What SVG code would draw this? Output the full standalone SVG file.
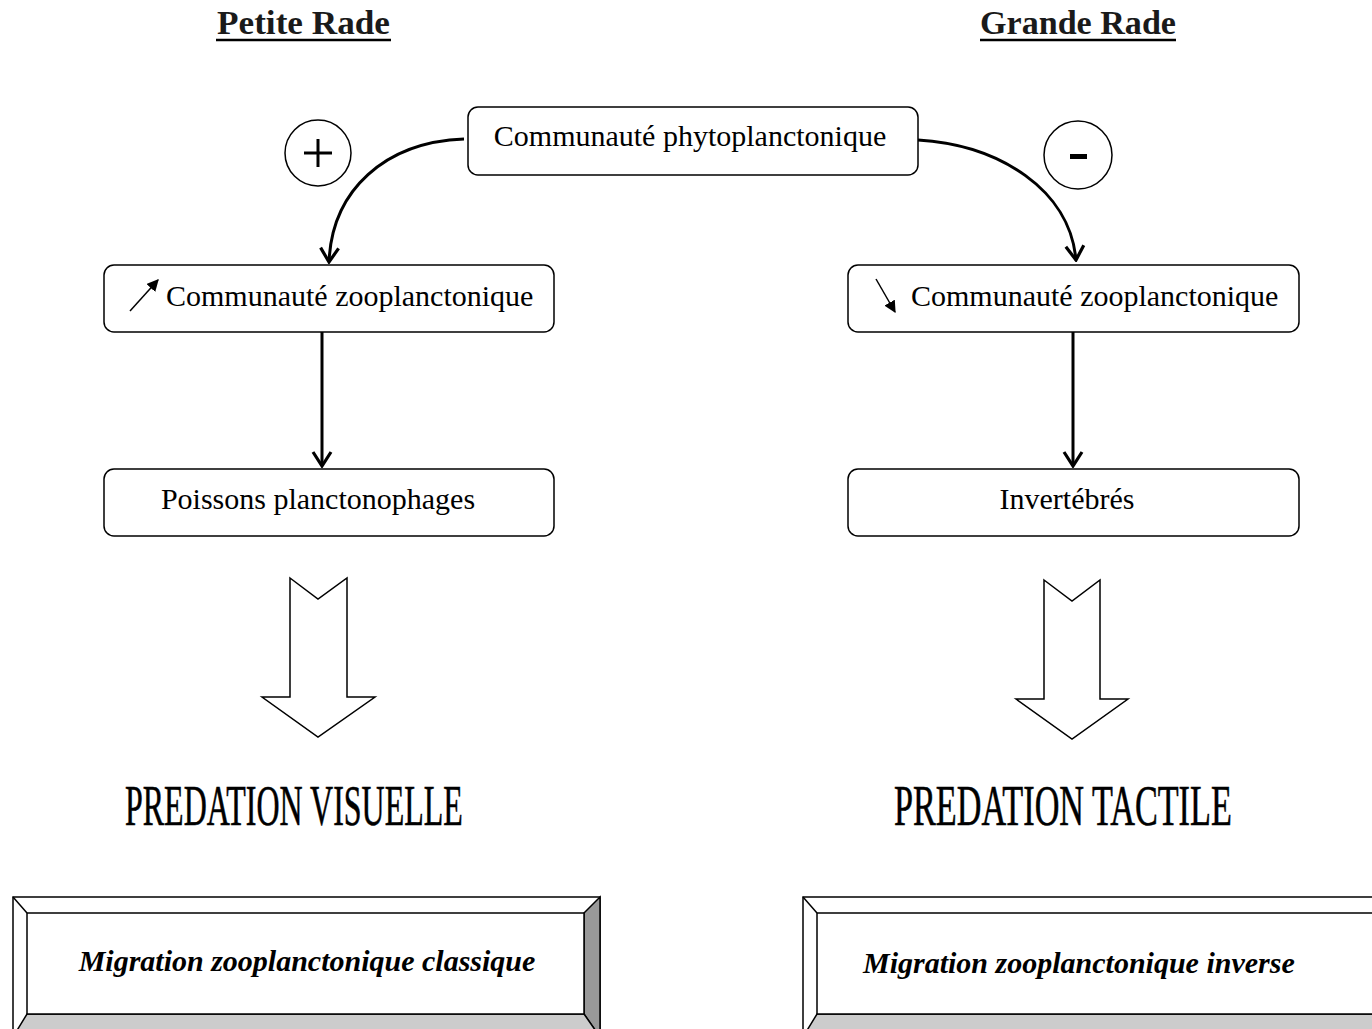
<svg xmlns="http://www.w3.org/2000/svg" width="1372" height="1029" viewBox="0 0 1372 1029">
<style>
.box{fill:#fff;stroke:#000;stroke-width:1.5}
.t{font-family:"Liberation Serif",serif;font-size:30px;fill:#000}
.title{font-family:"Liberation Serif",serif;font-size:33px;font-weight:bold;fill:#1a1a1a}
.pred{font-family:"Liberation Serif",serif;font-size:56px;fill:#000;stroke:#000;stroke-width:0.6}
.mig{font-family:"Liberation Serif",serif;font-size:30px;font-weight:bold;font-style:italic;fill:#000}
.conn{fill:none;stroke:#000;stroke-width:3}
.blk{fill:#fff;stroke:#000;stroke-width:1.5;stroke-linejoin:miter}
.bev{stroke:#000;stroke-width:1.5}
</style>
<defs>
<marker id="vh" viewBox="0 0 22 22" refX="20" refY="11" markerWidth="22" markerHeight="22" markerUnits="userSpaceOnUse" orient="auto">
<polyline points="6,2 20,11 6,20" fill="none" stroke="#000" stroke-width="3.2"/>
</marker>
<marker id="fh" viewBox="0 0 10 10" refX="9" refY="5" markerWidth="12" markerHeight="12" markerUnits="userSpaceOnUse" orient="auto">
<path d="M0,0 L10,5 L0,10 Z" fill="#000"/>
</marker>
</defs>
<rect width="1372" height="1029" fill="#fff"/>

<g id="title-left">
<text class="title" x="217" y="34" textLength="173" lengthAdjust="spacingAndGlyphs">Petite Rade</text>
<line x1="216" y1="40" x2="391" y2="40" stroke="#000" stroke-width="2.5"/>
</g>
<g id="title-right">
<text class="title" x="980" y="34" textLength="196" lengthAdjust="spacingAndGlyphs">Grande Rade</text>
<line x1="980" y1="40" x2="1176" y2="40" stroke="#000" stroke-width="2.5"/>
</g>

<g id="plus">
<circle cx="318" cy="153" r="33" fill="#fff" stroke="#000" stroke-width="1.5"/>
<line x1="304" y1="153" x2="332" y2="153" stroke="#000" stroke-width="3"/>
<line x1="318" y1="139" x2="318" y2="167" stroke="#000" stroke-width="3"/>
</g>
<g id="minus">
<circle cx="1078" cy="155" r="34" fill="#fff" stroke="#000" stroke-width="1.5"/>
<rect x="1070" y="154" width="17" height="5" fill="#000"/>
</g>

<g id="connectors">
<path class="conn" d="M464,139 C385,142 332,190 329,262" marker-end="url(#vh)"/>
<path class="conn" d="M918,140 C1000,145 1070,190 1076,260" marker-end="url(#vh)"/>
<line class="conn" x1="322" y1="332" x2="322" y2="466" marker-end="url(#vh)"/>
<line class="conn" x1="1073" y1="332" x2="1073" y2="466" marker-end="url(#vh)"/>
</g>

<g id="phyto">
<rect class="box" x="468" y="107" width="450" height="68" rx="10"/>
<text class="t" x="690" y="146" text-anchor="middle">Communauté phytoplanctonique</text>
</g>
<g id="zoo-left">
<rect class="box" x="104" y="265" width="450" height="67" rx="10"/>
<line x1="130" y1="311" x2="158" y2="280" stroke="#000" stroke-width="1.5" marker-end="url(#fh)"/>
<text class="t" x="166" y="306">Communauté zooplanctonique</text>
</g>
<g id="zoo-right">
<rect class="box" x="848" y="265" width="451" height="67" rx="10"/>
<line x1="876" y1="279" x2="895" y2="312" stroke="#000" stroke-width="1.5" marker-end="url(#fh)"/>
<text class="t" x="911" y="306">Communauté zooplanctonique</text>
</g>
<g id="poissons">
<rect class="box" x="104" y="469" width="450" height="67" rx="10"/>
<text class="t" x="318" y="509" text-anchor="middle">Poissons planctonophages</text>
</g>
<g id="invert">
<rect class="box" x="848" y="469" width="451" height="67" rx="10"/>
<text class="t" x="1067" y="509" text-anchor="middle">Invertébrés</text>
</g>

<g id="block-left">
<polygon class="blk" points="290,578 318,599 347,578 347,697 375,697 318,737 262,697 290,697"/>
</g>
<g id="block-right">
<polygon class="blk" points="1044,580 1072,601 1100,580 1100,699 1128,699 1072,739 1016,699 1044,699"/>
</g>

<g id="pred-left">
<text class="pred" transform="translate(125,825) scale(0.6,1)" x="0" y="0" textLength="563" lengthAdjust="spacingAndGlyphs">PREDATION VISUELLE</text>
</g>
<g id="pred-right">
<text class="pred" transform="translate(894,825) scale(0.6,1)" x="0" y="0" textLength="563" lengthAdjust="spacingAndGlyphs">PREDATION TACTILE</text>
</g>

<g id="mig-left">
<rect x="13" y="897" width="587" height="140" fill="#fff" stroke="#000" stroke-width="1.5"/>
<polygon class="bev" points="584,913 600,897 600,1037 584,1014" fill="#999"/>
<polygon class="bev" points="27,1014 584,1014 600,1037 13,1037" fill="#ccc"/>
<line class="bev" x1="13" y1="897" x2="27" y2="913"/>
<rect x="27" y="913" width="557" height="101" fill="#fff" stroke="#000" stroke-width="1.5"/>
<text class="mig" x="307" y="971" text-anchor="middle">Migration zooplanctonique classique</text>
</g>
<g id="mig-right">
<rect x="803" y="897" width="600" height="140" fill="#fff" stroke="#000" stroke-width="1.5"/>
<polygon class="bev" points="817,1014 1390,1014 1390,1037 803,1037" fill="#ccc"/>
<line class="bev" x1="803" y1="897" x2="817" y2="913"/>
<rect x="817" y="913" width="580" height="101" fill="#fff" stroke="#000" stroke-width="1.5"/>
<text class="mig" x="863" y="973">Migration zooplanctonique inverse</text>
</g>
</svg>
